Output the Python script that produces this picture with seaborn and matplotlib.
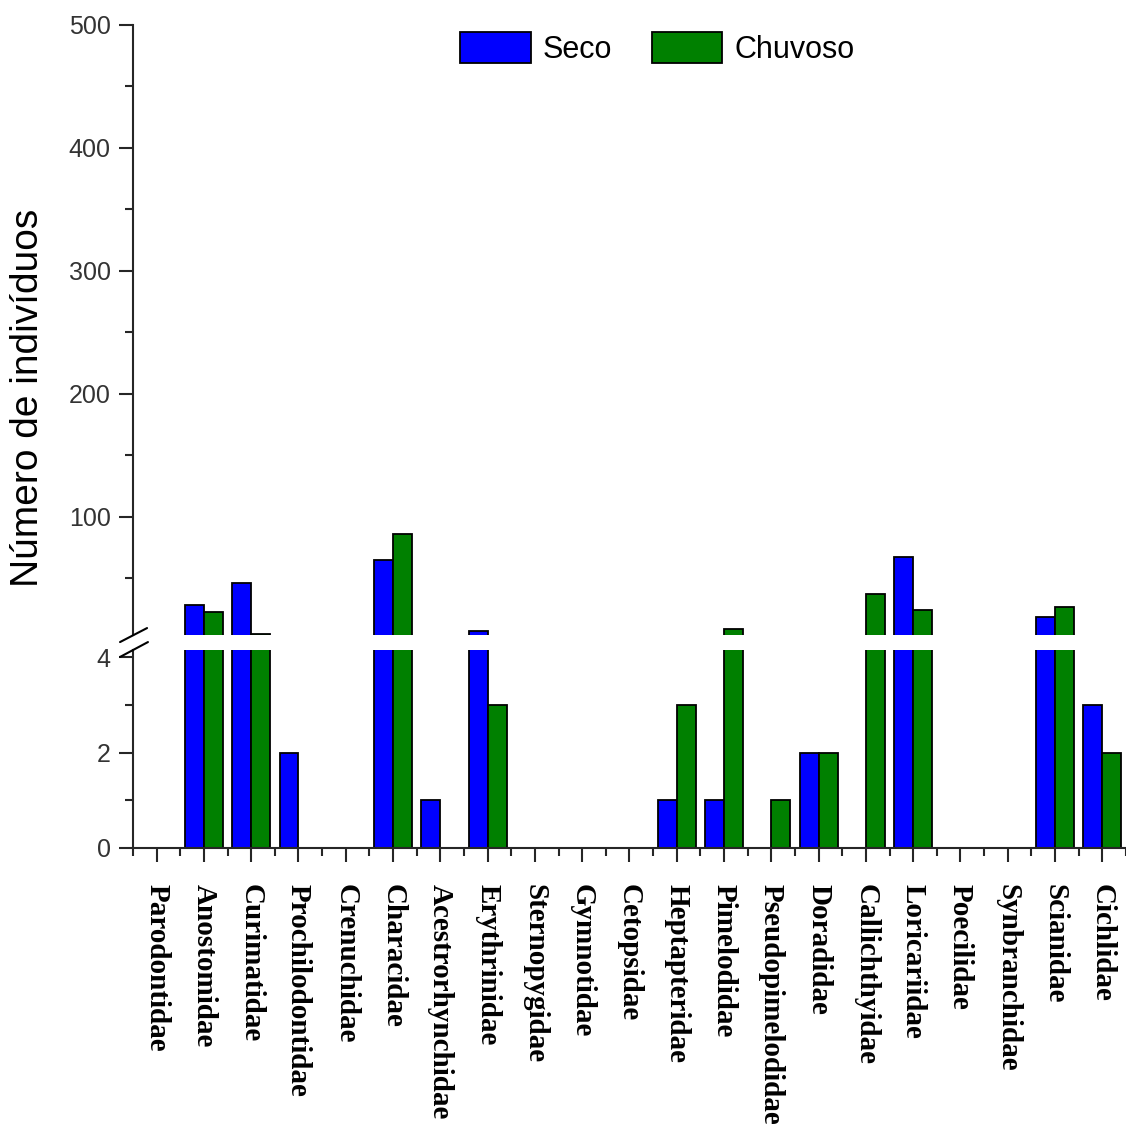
import numpy as np
import pandas as pd
import seaborn as sns
import matplotlib.pyplot as plt
from matplotlib.patches import Patch
from matplotlib.lines import Line2D
from matplotlib.ticker import MultipleLocator, FixedLocator

# dados
familias = ['Parodontidae', 'Anostomidae', 'Curimatidae', 'Prochilodontidae',
            'Crenuchidae', 'Characidae', 'Acestrorhynchidae', 'Erythrinidae',
            'Sternopygidae', 'Gymnotidae', 'Cetopsidae', 'Heptapteridae',
            'Pimelodidae', 'Pseudopimelodidae', 'Doradidae', 'Callichthyidae',
            'Loricariidae', 'Poecilidae', 'Synbranchidae', 'Scianidae', 'Cichlidae']
seco = [0, 28, 46, 2, 0, 65, 1, 7, 0, 0, 0, 1, 1, 0, 2, 0, 67, 0, 0, 19, 3]
chuvoso = [0, 23, 5, 0, 0, 86, 0, 3, 0, 0, 0, 3, 9, 1, 2, 37, 24, 0, 0, 27, 2]
periodos = ['Seco', 'Chuvoso']
cores = {'Seco': '#0000FF', 'Chuvoso': '#008000'}

df = pd.DataFrame({
    'familia': familias * 2,
    'periodo': ['Seco'] * len(familias) + ['Chuvoso'] * len(familias),
    'n': seco + chuvoso,
})

sns.set_style('ticks')
plt.rcParams['font.family'] = ['Liberation Sans', 'DejaVu Sans']
plt.rcParams['axes.linewidth'] = 1.5
plt.rcParams['text.color'] = 'black'

fig = plt.figure(figsize=(11.26, 11.29), dpi=100)
ax_alto = fig.add_axes([0.1181, 0.4376, 0.8819, 0.5403])
ax_baixo = fig.add_axes([0.1181, 0.2489, 0.8819, 0.1754])

for ax in (ax_alto, ax_baixo):
    sns.barplot(data=df, x='familia', y='n', hue='periodo', hue_order=periodos,
                palette=cores, edgecolor='black', linewidth=1.3, errorbar=None,
                legend=False, saturation=1, ax=ax)
    ax.set_xlim(-0.5, len(familias) - 0.5)
    ax.set_xlabel('')
    ax.set_ylabel('')
    ax.spines['top'].set_visible(False)
    ax.spines['right'].set_visible(False)
    ax.tick_params(axis='y', which='major', length=10, width=1.5, labelsize=18,
                   labelcolor='#333333', pad=6)
    ax.tick_params(axis='y', which='minor', length=5.5, width=1.5)

# parte de cima do eixo quebrado
ax_alto.set_ylim(4, 500)
ax_alto.yaxis.set_major_locator(FixedLocator([100, 200, 300, 400, 500]))
ax_alto.yaxis.set_minor_locator(FixedLocator([50, 150, 250, 350, 450]))
ax_alto.spines['bottom'].set_visible(False)
ax_alto.tick_params(axis='x', which='both', bottom=False, labelbottom=False)

# parte de baixo
ax_baixo.set_ylim(0, 4.15)
ax_baixo.yaxis.set_major_locator(MultipleLocator(2))
ax_baixo.yaxis.set_minor_locator(MultipleLocator(1))
ax_baixo.xaxis.set_minor_locator(FixedLocator(np.arange(-0.5, len(familias), 1)))
ax_baixo.tick_params(axis='x', which='major', length=10, width=1.5, pad=16)
ax_baixo.tick_params(axis='x', which='minor', length=5.5, width=1.5)
ax_baixo.set_xticks(range(len(familias)))
ax_baixo.set_xticklabels(familias, rotation=270, va='top', ha='center',
                         fontsize=21, fontweight='bold', family='Liberation Serif',
                         color='black')

# marcas da quebra
fig.add_artist(Line2D([0.1066, 0.1306], [0.4313, 0.4437], color='black', lw=1.5))
fig.add_artist(Line2D([0.1066, 0.1314], [0.4181, 0.4313], color='black', lw=1.5))

fig.text(0.025, 0.648, 'Número de indivíduos', rotation=90, va='center',
         ha='center', fontsize=28, color='black')

handles = [Patch(facecolor=cores[p], edgecolor='black', linewidth=1.3, label=p)
           for p in periodos]
fig.legend(handles=handles, loc='center', bbox_to_anchor=(0.584, 0.957),
           ncol=2, frameon=False, fontsize=22, handlelength=2.3,
           handleheight=1.15, handletextpad=0.4, columnspacing=1.3,
           borderpad=0, labelcolor='black')

plt.savefig('out.png', dpi=100)
